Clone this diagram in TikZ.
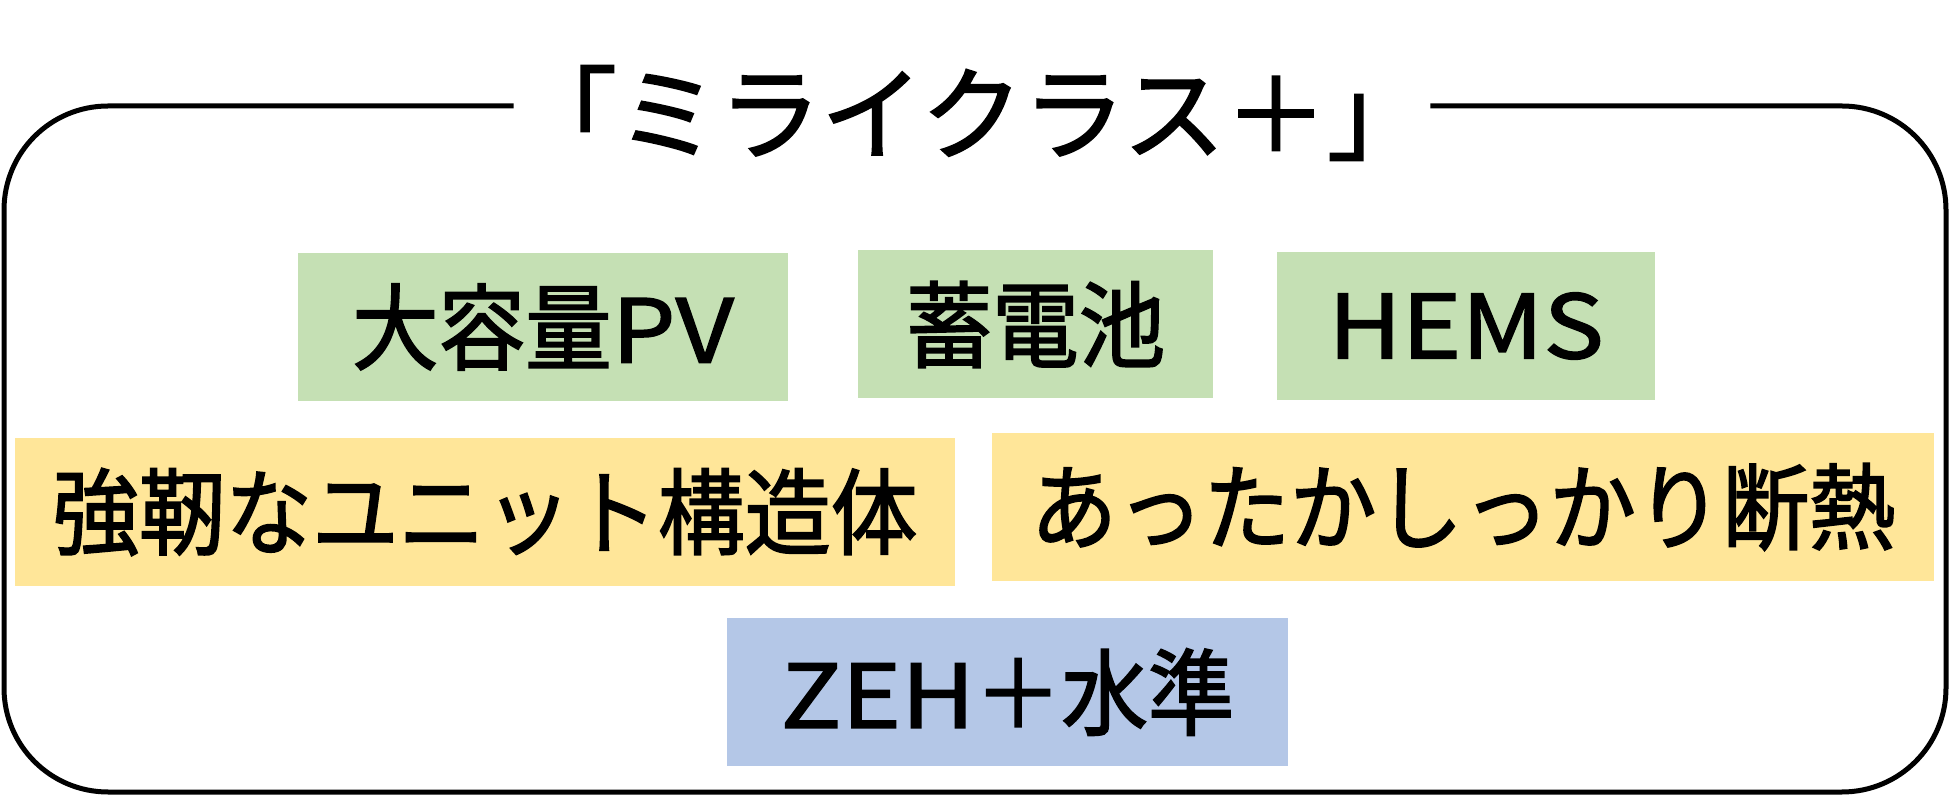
\documentclass[tikz,border=0pt]{standalone}
\usepackage{fontspec}
\setmainfont{Noto Sans CJK JP}[FakeStretch=0.92, FakeBold=1.8]
\newfontfamily\titlefont{Noto Sans CJK JP}[FakeBold=1.8]
\newfontfamily\latinfont{Noto Sans CJK JP}[FakeStretch=1.15, FakeBold=1.8]
\newcommand{\wide}[1]{{\latinfont\fontsize{44}{52}\selectfont #1}}
\definecolor{leafgreen}{HTML}{C5E0B4}
\definecolor{sand}{HTML}{FFE699}
\definecolor{skyblue}{HTML}{B4C7E7}

\begin{document}
\begin{tikzpicture}[
    x=0.5pt, y=-0.5pt,
    box/.style={rectangle, inner sep=0pt, minimum height=74pt,
                font=\fontsize{47}{52}\selectfont},
    equip/.style={box, fill=leafgreen},
    body/.style={box, fill=sand},
    goal/.style={box, fill=skyblue},
    frame/.style={line width=2.5pt, rounded corners=52pt}
]
    \useasboundingbox (0,0) rectangle (1950,801);

    % title and outer frame
    \node (title) at (972,113) [inner sep=0pt, minimum width=458pt,
        font=\titlefont\fontsize{51}{56}\selectfont] {「ミライクラス＋」};
    \coordinate (tl) at (4,106);
    \coordinate (br) at (1946,792);
    \draw[frame] (title.east |- tl) -- (br |- tl) -- (br) -- (tl |- br)
        -- (tl) -- (title.west |- tl);

    % equipment
    \node[equip, minimum width=245pt]   (pv)   at (543,327)    {大容量\wide{PV}};
    \node[equip, minimum width=177.5pt] (batt) at (1035.5,324.5) {蓄電池};
    \node[equip, minimum width=189pt]   (hems) at (1466,326)   {\wide{HEMS}};

    % house body
    \node[body, minimum width=470pt] (frameunit) at (485,512)  {強靭なユニット構造体};
    \node[body, minimum width=471pt] (insul)     at (1463,507) {あったかしっかり断熱};

    % result
    \node[goal, minimum width=280.5pt] (zeh) at (1007.5,692) {\wide{ZEH}＋水準};
\end{tikzpicture}
\end{document}
